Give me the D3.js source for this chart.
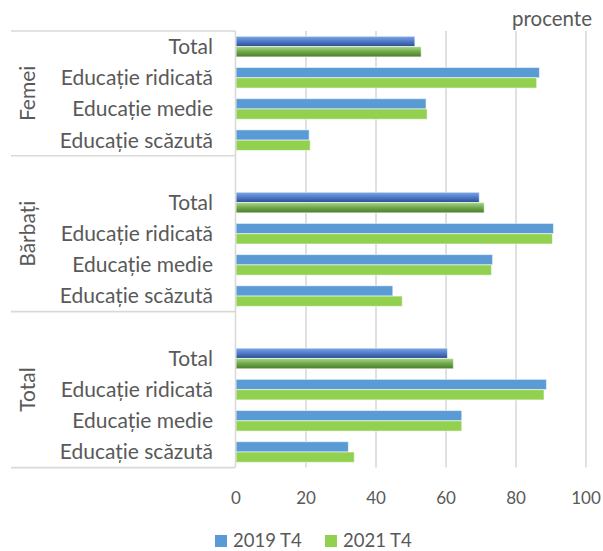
<!DOCTYPE html>
<html>
<head>
<meta charset="utf-8">
<script src="https://cdn.jsdelivr.net/npm/d3@7"></script>
<style>
  html, body { margin: 0; padding: 0; background: #fff; }
  svg { display: block; }
  text { font-family: Lato, "Noto Sans", sans-serif; fill: #595959; }
</style>
</head>
<body>
<svg id="chart" width="603" height="551"></svg>
<script>
// Employment rate by education level and sex (percent)
const groups = ["Femei", "Bărbați", "Total"];
const levels = ["Total", "Educație ridicată", "Educație medie", "Educație scăzută"];
const series = ["2019 T4", "2021 T4"];

// values per group, in the order of `levels`
const femei2019 = [51.1, 86.7, 54.3, 20.9];
const femei2021 = [52.9, 85.9, 54.6, 21.2];
const barbati2019 = [69.5, 90.7, 73.3, 44.8];
const barbati2021 = [70.9, 90.4, 73.0, 47.5];
const total2019 = [60.4, 88.7, 64.5, 32.1];
const total2021 = [62.1, 88.0, 64.5, 33.8];

const xTicks = [0, 20, 40, 60, 80, 100];
const unitLabel = "procente";

const groupValues = {
  "Femei":   [femei2019, femei2021],
  "Bărbați": [barbati2019, barbati2021],
  "Total":   [total2019, total2021]
};

// Slots from top to bottom; every group after the first starts with an empty slot
const slots = [];
groups.forEach((g, gi) => {
  if (gi > 0) slots.push({ key: g + "|gap", group: g, level: null });
  levels.forEach((l, li) => slots.push({ key: g + "|" + l, group: g, level: l, li }));
});

const svg = d3.select("#chart");
const plot = { left: 236, right: 586, top: 31, bottom: 467.6 };
const gridColor = "#d9d9d9";
const colors = { "2019 T4": "#5b9bd5", "2021 T4": "#92d050" };

const x = d3.scaleLinear().domain([0, 100]).range([plot.left, plot.right]);
const y = d3.scaleBand().domain(slots.map(s => s.key)).range([plot.top, plot.bottom]).padding(0);
const step = y.bandwidth();
const ys = d3.scaleBand().domain(series).range([step * 0.17, step * 0.83]).padding(0);

// gradients for the "Total" rows
const defs = svg.append("defs");
const gradStops = {
  "2019 T4": ["#7ea6e6", "#4f79c8", "#2c4d8c"],
  "2021 T4": ["#a8d88a", "#6fa84a", "#4a7a2c"]
};
series.forEach((s, i) => {
  const g = defs.append("linearGradient").attr("id", "grad" + i)
    .attr("x1", 0).attr("y1", 0).attr("x2", 0).attr("y2", 1);
  g.append("stop").attr("offset", "0%").attr("stop-color", gradStops[s][0]);
  g.append("stop").attr("offset", "50%").attr("stop-color", gradStops[s][1]);
  g.append("stop").attr("offset", "100%").attr("stop-color", gradStops[s][2]);
});

// vertical gridlines
svg.append("g").selectAll("line").data(xTicks.slice(1)).join("line")
  .attr("x1", d => x(d)).attr("x2", d => x(d))
  .attr("y1", plot.top).attr("y2", plot.bottom)
  .attr("stroke", gridColor).attr("stroke-width", 1.6);

// bars
const barData = [];
slots.filter(s => s.level).forEach(s => {
  series.forEach((ser, si) => {
    barData.push({ slot: s, series: ser, si, value: groupValues[s.group][si][s.li] });
  });
});
svg.append("g").selectAll("rect").data(barData).join("rect")
  .attr("x", x(0))
  .attr("y", d => y(d.slot.key) + ys(d.series))
  .attr("width", d => x(d.value) - x(0))
  .attr("height", ys.bandwidth())
  .attr("fill", d => d.slot.level === "Total" ? "url(#grad" + d.si + ")" : colors[d.series])
  .attr("stroke", "rgba(255,255,255,0.55)")
  .attr("stroke-width", 1);

// category axis line and group separators
const sep = svg.append("g").attr("stroke", gridColor).attr("stroke-width", 1.6);
sep.append("line").attr("x1", plot.left - 0.5).attr("x2", plot.left - 0.5)
  .attr("y1", plot.top).attr("y2", plot.bottom);
const boundaries = [plot.top];
groups.forEach((g, gi) => {
  const inGroup = slots.filter(s => s.group === g);
  boundaries.push(y(inGroup[inGroup.length - 1].key) + step);
});
sep.selectAll("line.sep").data(boundaries).join("line").attr("class", "sep")
  .attr("x1", 11).attr("x2", plot.left - 0.5)
  .attr("y1", d => d).attr("y2", d => d);

// category labels
svg.append("g").selectAll("text").data(slots.filter(s => s.level)).join("text")
  .attr("x", 213)
  .attr("y", s => y(s.key) + step / 2)
  .attr("dy", "0.35em")
  .attr("text-anchor", "end")
  .attr("font-size", 21)
  .text(s => s.level);

// group labels (rotated)
svg.append("g").selectAll("text").data(groups).join("text")
  .attr("transform", (g, gi) => {
    const cy = (boundaries[gi] + boundaries[gi + 1]) / 2;
    return `translate(35,${cy}) rotate(-90)`;
  })
  .attr("text-anchor", "middle")
  .attr("font-size", 21)
  .text(g => g);

// value axis tick labels
svg.append("g").selectAll("text").data(xTicks).join("text")
  .attr("x", d => x(d)).attr("y", 503.5)
  .attr("text-anchor", "middle")
  .attr("font-size", 17)
  .text(d => d);

// unit label
svg.append("text").attr("x", 592).attr("y", 26)
  .attr("text-anchor", "end").attr("font-size", 20.5)
  .text(unitLabel);

// legend
const legend = svg.append("g");
const legendX = [215, 325];
series.forEach((s, i) => {
  legend.append("rect").attr("x", legendX[i]).attr("y", 535)
    .attr("width", 12).attr("height", 12).attr("fill", colors[s]);
  legend.append("text").attr("x", legendX[i] + 18).attr("y", 547)
    .attr("font-size", 18.5).text(s);
});
</script>
</body>
</html>
